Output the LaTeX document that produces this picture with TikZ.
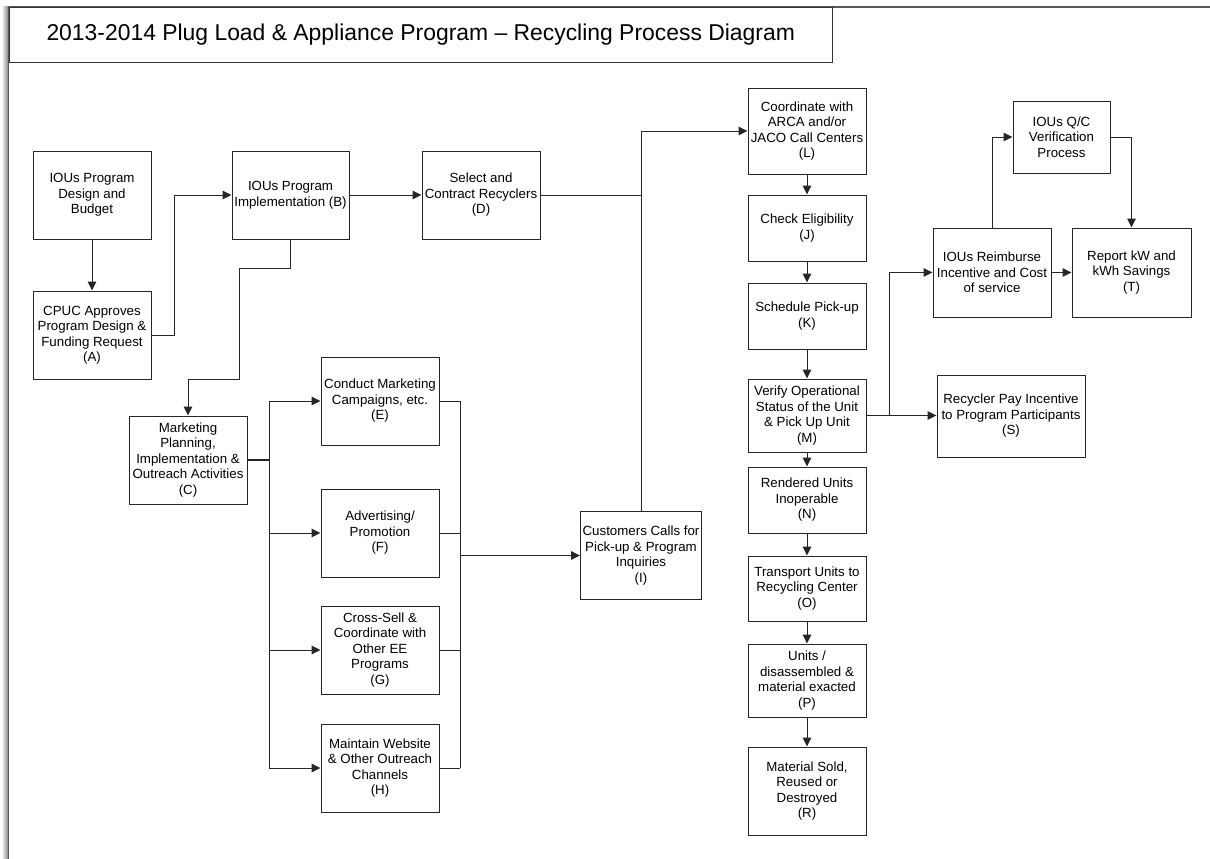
\documentclass[tikz,border=0pt]{standalone}
\usepackage{fontspec}
\setmainfont{Liberation Sans}
\usetikzlibrary{arrows.meta}
\begin{document}
\begin{tikzpicture}[x=1pt,y=-1pt,
  box/.style={draw=black!85, line width=1pt, fill=white, align=center, inner sep=0pt,
    font=\fontsize{13.3}{15.5}\selectfont, minimum width=118pt, minimum height=88pt},
  conn/.style={draw=black!85, line width=1pt},
  arr/.style={conn, -{Triangle[length=9pt,width=8.5pt]}},
  frame/.style={draw=black!65, line width=1.6pt},
]
\useasboundingbox (0,0) rectangle (1210,859);
\fill[white] (0,0) rectangle (1210,859);
% page frame with shadow
\shade[left color=white, right color=black!45] (1.5,7) rectangle (7.8,859);
\draw[frame] (1210,7) -- (8.5,7) -- (8.5,859);
\node[draw=black!80, line width=1pt, minimum width=823.5pt, minimum height=55pt, inner sep=0pt,
  font=\fontsize{22.9}{26}\selectfont, anchor=north west] (title) at (8.5,7)
  {2013-2014 Plug Load \& Appliance Program – Recycling Process Diagram};

% boxes
\node[box] (dsg) at (92,195) {IOUs Program\\Design and\\Budget};
\node[box] (A) at (92,335) {CPUC Approves\\Program Design \&\\Funding Request\\(A)};
\node[box, minimum width=117pt] (B) at (290.5,195) {IOUs Program\\Implementation (B)};
\node[box] (D) at (481,195) {Select and\\Contract Recyclers\\(D)};
\node[box] (C) at (188,460) {Marketing\\Planning,\\Implementation \&\\Outreach Activities\\(C)};
\node[box] (E) at (380,401) {Conduct Marketing\\Campaigns, etc.\\(E)};
\node[box] (F) at (380,533) {Advertising/\\Promotion\\(F)};
\node[box] (G) at (380,650) {Cross-Sell \&\\Coordinate with\\Other EE\\Programs\\(G)};
\node[box] (H) at (380,768) {Maintain Website\\\& Other Outreach\\Channels\\(H)};
\node[box, minimum width=121pt] (I) at (641,555.5) {Customers Calls for\\Pick-up \& Program\\Inquiries\\(I)};
\node[box, minimum height=86pt] (L) at (807,131) {Coordinate with\\ARCA and/or\\JACO Call Centers\\(L)};
\node[box, minimum height=66pt] (J) at (807,228) {Check Eligibility\\(J)};
\node[box, minimum height=66pt] (K) at (807,316) {Schedule Pick-up\\(K)};
\node[box, minimum height=73pt] (M) at (807,415.5) {Verify Operational\\Status of the Unit\\\& Pick Up Unit\\(M)};
\node[box, minimum height=66pt] (N) at (807,500) {Rendered Units\\Inoperable\\(N)};
\node[box, minimum height=65pt] (O) at (807,588.5) {Transport Units to\\Recycling Center\\(O)};
\node[box, minimum height=73pt] (P) at (807,680.5) {Units /\\disassembled \&\\material exacted\\(P)};
\node[box] (R) at (807,791) {Material Sold,\\Reused or\\Destroyed\\(R)};
\node[box, minimum width=97pt, minimum height=72pt] (QC) at (1061.5,137) {IOUs Q/C\\Verification\\Process};
\node[box, minimum height=89pt] (Rb) at (992,272.5) {IOUs Reimburse\\Incentive and Cost\\of service};
\node[box, minimum width=119pt, minimum height=89pt] (T) at (1131.5,272.5) {Report kW and\\kWh Savings\\(T)};
\node[box, minimum width=148pt, minimum height=82pt] (S) at (1011,416) {Recycler Pay Incentive\\to Program Participants\\(S)};

% coordinates for buses
\coordinate (busL) at (269,0);
\coordinate (busR) at (460,0);
\coordinate (mj) at (889,415.5);

% connectors
\draw[arr] (dsg) -- (A);
\draw[arr] (A.east) -- ++(23,0) |- (B.west);
\draw[arr] (B) -- (D);
\draw[conn] (D.east) -- (D.east -| I.north);
\draw[arr] (I.north) |- (L.west);
\draw[arr] (B.south) -- ++(0,29) -| (239,379) -| (C.north);
\draw[conn, line width=2pt] (C.east) -- (busL |- C.east);
\draw[conn] (busL |- E.west) -- (busL |- H.west);
\foreach \n in {E,F,G,H} {
  \draw[arr] (busL |- \n.west) -- (\n.west);
  \draw[conn] (\n.east) -- (busR |- \n.east);
}
\draw[conn] (busR |- E.east) -- (busR |- H.east);
\draw[arr] (busR |- I.west) -- (I.west);
\draw[arr] (L) -- (J);
\draw[arr] (J) -- (K);
\draw[arr] (K) -- (M);
\draw[arr] (M) -- (N);
\draw[arr] (N) -- (O);
\draw[arr] (O) -- (P);
\draw[arr] (P) -- (R);
\draw[conn, line width=1.6pt] (M.east) -- (mj);
\draw[arr] (mj) |- (Rb.west);
\draw[arr] (mj) -- (mj -| S.west);
\draw[arr] (Rb.north) |- (QC.west);
\draw[arr] (QC.east) -| (T.north);
\draw[arr] (Rb) -- (T);
\end{tikzpicture}
\end{document}
